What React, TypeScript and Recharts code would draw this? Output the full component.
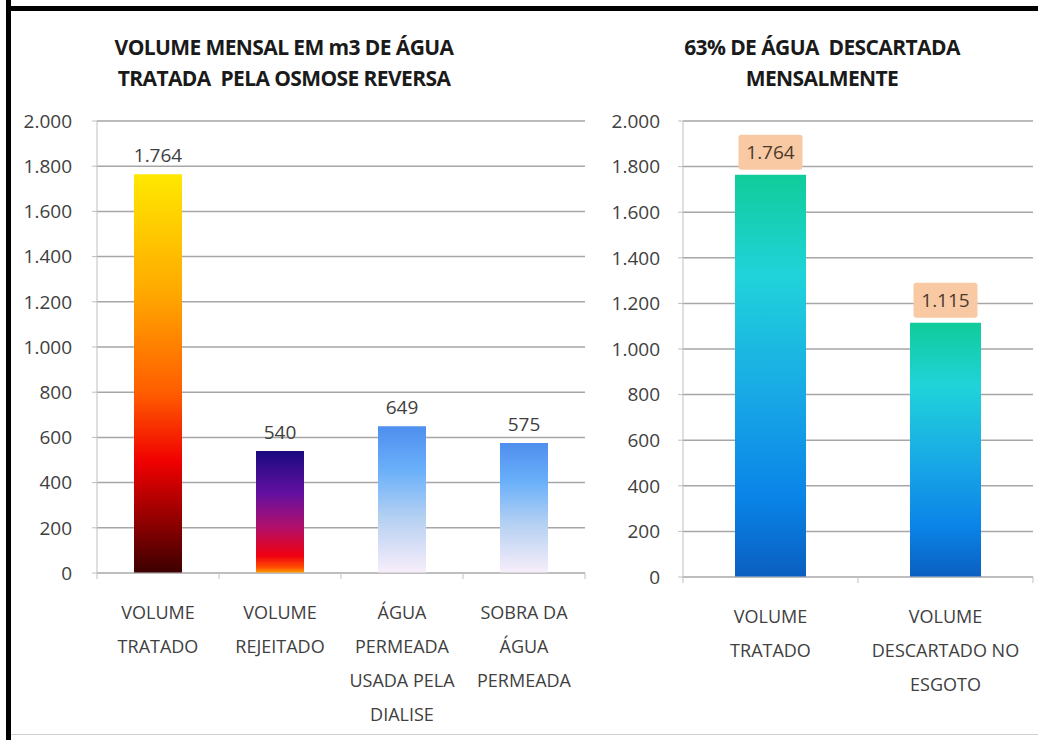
import React from "react";
import {
  BarChart,
  Bar,
  XAxis,
  YAxis,
  CartesianGrid,
  Cell,
  LabelList,
} from "recharts";

const leftCategories = [
  "VOLUME\nTRATADO",
  "VOLUME\nREJEITADO",
  "ÁGUA\nPERMEADA\nUSADA PELA\nDIALISE",
  "SOBRA DA\nÁGUA\nPERMEADA",
];
const leftValues = [1764, 540, 649, 575];
const leftGradients = ["gFire", "gNight", "gSky", "gSky"];

const rightCategories = ["VOLUME\nTRATADO", "VOLUME\nDESCARTADO NO\nESGOTO"];
const rightValues = [1764, 1115];

const yTicks = [0, 200, 400, 600, 800, 1000, 1200, 1400, 1600, 1800, 2000];

const leftData = leftCategories.map((name, i) => ({ name, value: leftValues[i] }));
const rightData = rightCategories.map((name, i) => ({ name, value: rightValues[i] }));

const FONT = "'Open Sans', sans-serif";
const TXT = "#404040";

// 1.764 style
const fmt = (v: number) => v.toLocaleString("de-DE");

const CatTick = (props: any) => {
  const { x, y, payload, index, band, count } = props;
  const lines = String(payload.value).split("\n");
  return (
    <g>
      <line x1={x - band / 2} x2={x - band / 2} y1={y} y2={y + 6} stroke="#bfbfbf" />
      {index === count - 1 && (
        <line x1={x + band / 2} x2={x + band / 2} y1={y} y2={y + 6} stroke="#bfbfbf" />
      )}
      <text x={x} y={y + 46} textAnchor="middle" fill={TXT} fontSize={18} fontFamily={FONT}>
        {lines.map((l: string, i: number) => (
          <tspan key={i} x={x} dy={i === 0 ? 0 : 34}>
            {l}
          </tspan>
        ))}
      </text>
    </g>
  );
};

const PeachLabel = (props: any) => {
  const { x, y, width, value } = props;
  const cx = x + width / 2;
  return (
    <g>
      <rect x={cx - 32} y={y - 40} width={64} height={35} fill="#f9c9a4" rx={3} />
      <text
        x={cx}
        y={y - 16}
        textAnchor="middle"
        fill="#4a3a2a"
        fontSize={19}
        fontFamily={FONT}
      >
        {fmt(value)}
      </text>
    </g>
  );
};

const titleStyle: React.CSSProperties = {
  position: "absolute",
  textAlign: "center",
  fontFamily: FONT,
  fontWeight: 700,
  fontSize: 21,
  letterSpacing: -0.6,
  lineHeight: "31px",
  color: "#1a1a1a",
  whiteSpace: "pre",
};

const App = () => {
  return (
    <div
      style={{
        position: "absolute",
        left: 0,
        top: 0,
        width: 1038,
        height: 740,
        background: "#fff",
        overflow: "hidden",
      }}
    >
      <svg width={0} height={0} style={{ position: "absolute" }}>
        <defs>
          <linearGradient id="gFire" x1="0" y1="0" x2="0" y2="1">
            <stop offset="0" stopColor="#ffe800" />
            <stop offset="0.3" stopColor="#ffa800" />
            <stop offset="0.55" stopColor="#ff5c00" />
            <stop offset="0.72" stopColor="#f00000" />
            <stop offset="0.88" stopColor="#8a0000" />
            <stop offset="1" stopColor="#3c0000" />
          </linearGradient>
          <linearGradient id="gNight" x1="0" y1="0" x2="0" y2="1">
            <stop offset="0" stopColor="#1a0a80" />
            <stop offset="0.35" stopColor="#6410a0" />
            <stop offset="0.62" stopColor="#b0106c" />
            <stop offset="0.86" stopColor="#f00010" />
            <stop offset="0.95" stopColor="#ff4a00" />
            <stop offset="1" stopColor="#ffa000" />
          </linearGradient>
          <linearGradient id="gSky" x1="0" y1="0" x2="0" y2="1">
            <stop offset="0" stopColor="#4f8fef" />
            <stop offset="0.3" stopColor="#6ab0fa" />
            <stop offset="0.62" stopColor="#b4d0f2" />
            <stop offset="1" stopColor="#f8eefa" />
          </linearGradient>
          <linearGradient id="gSea" x1="0" y1="0" x2="0" y2="1">
            <stop offset="0" stopColor="#10cc9a" />
            <stop offset="0.25" stopColor="#20d3da" />
            <stop offset="0.55" stopColor="#18a8e6" />
            <stop offset="0.8" stopColor="#0a84e8" />
            <stop offset="1" stopColor="#0a5fc0" />
          </linearGradient>
        </defs>
      </svg>

      {/* frame */}
      <div style={{ position: "absolute", left: 6, top: 0, width: 5, height: 740, background: "#000" }} />
      <div style={{ position: "absolute", left: 6, top: 6, width: 1032, height: 5, background: "#000" }} />
      <div style={{ position: "absolute", left: 11, top: 734, width: 1027, height: 1, background: "#d0d0d0" }} />

      <div style={{ ...titleStyle, left: 84, top: 32, width: 400 }}>
        {"VOLUME MENSAL EM m3 DE ÁGUA\nTRATADA  PELA OSMOSE REVERSA"}
      </div>
      <div style={{ ...titleStyle, left: 622, top: 32, width: 400 }}>
        {"63% DE ÁGUA  DESCARTADA\nMENSALMENTE"}
      </div>

      <div style={{ position: "absolute", left: 0, top: 0 }}>
        <BarChart
          width={600}
          height={740}
          data={leftData}
          margin={{ top: 121, right: 15, bottom: 137, left: 0 }}
        >
          <CartesianGrid vertical={false} stroke="#a6a6a6" strokeWidth={1.5} />
          <YAxis
            width={97}
            domain={[0, 2000]}
            ticks={yTicks}
            tickFormatter={fmt}
            axisLine={{ stroke: "#bfbfbf" }}
            tickLine={{ stroke: "#bfbfbf" }}
            tickSize={5}
            tickMargin={20}
            tick={{ fill: TXT, fontSize: 19, fontFamily: FONT }}
          />
          <XAxis
            dataKey="name"
            interval={0}
            tickLine={false}
            tickSize={0}
            tickMargin={0}
            axisLine={{ stroke: "#bfbfbf" }}
            tick={<CatTick band={122} count={leftData.length} />}
          />
          <Bar dataKey="value" barSize={48} isAnimationActive={false}>
            {leftData.map((d, i) => (
              <Cell key={d.name} fill={`url(#${leftGradients[i]})`} />
            ))}
            <LabelList
              dataKey="value"
              position="top"
              offset={12}
              formatter={(v: any) => fmt(v)}
              fill={TXT}
              fontSize={19}
              fontFamily={FONT}
            />
          </Bar>
        </BarChart>
      </div>

      <div style={{ position: "absolute", left: 590, top: 0 }}>
        <BarChart
          width={448}
          height={740}
          data={rightData}
          margin={{ top: 121, right: 5, bottom: 133, left: 0 }}
        >
          <CartesianGrid vertical={false} stroke="#a6a6a6" strokeWidth={1.5} />
          <YAxis
            width={93}
            domain={[0, 2000]}
            ticks={yTicks}
            tickFormatter={fmt}
            axisLine={{ stroke: "#bfbfbf" }}
            tickLine={{ stroke: "#bfbfbf" }}
            tickSize={5}
            tickMargin={18}
            tick={{ fill: TXT, fontSize: 19, fontFamily: FONT }}
          />
          <XAxis
            dataKey="name"
            interval={0}
            tickLine={false}
            tickSize={0}
            tickMargin={0}
            axisLine={{ stroke: "#bfbfbf" }}
            tick={<CatTick band={175} count={rightData.length} />}
          />
          <Bar dataKey="value" barSize={71} fill="url(#gSea)" isAnimationActive={false}>
            <LabelList dataKey="value" content={<PeachLabel />} />
          </Bar>
        </BarChart>
      </div>
    </div>
  );
};

export default App;
